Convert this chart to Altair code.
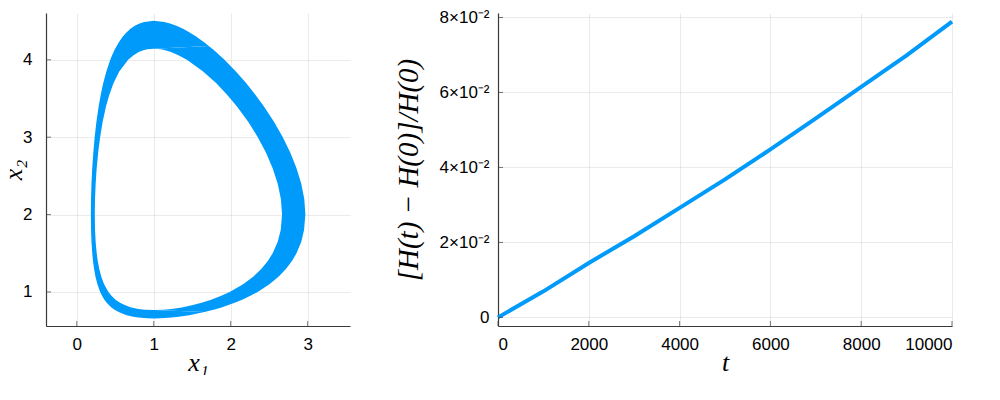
import altair as alt
import pandas as pd

BLUE = "#009AFA"
SPINE = "#3a3a3a"

# ---- left panel: phase-space band (outer and inner boundary) ----
y_samples = [0.657, 0.66, 0.67, 0.68, 0.70, 0.72, 0.74, 0.766, 0.77, 0.78, 0.80,
             0.83, 0.86, 0.90, 0.95, 1.00, 1.10, 1.20, 1.30, 1.40, 1.50, 1.65,
             1.80, 2.00, 2.20, 2.40, 2.60, 2.80, 3.00, 3.20, 3.40, 3.55, 3.70,
             3.85, 4.00, 4.06, 4.10, 4.12, 4.135, 4.143, 4.18, 4.22, 4.26, 4.30,
             4.35, 4.40, 4.44, 4.47, 4.49, 4.505]
outer_left = [1.0, 0.917, 0.797, 0.734, 0.649, 0.590, 0.545, 0.4975, 0.4916, 0.477, 0.450,
              0.417, 0.389, 0.3585, 0.328, 0.304, 0.268, 0.2424, 0.2242, 0.2107, 0.2009, 0.191,
              0.1855, 0.183, 0.185, 0.191, 0.2008, 0.2145, 0.2323, 0.2551, 0.2843, 0.3113, 0.3439,
              0.3842, 0.435, 0.459, 0.478, 0.487, 0.4946, 0.4984, 0.519, 0.5425, 0.569, 0.598,
              0.642, 0.697, 0.754, 0.815, 0.876, 1.0]
outer_right = [1.0, 1.09, 1.234, 1.324, 1.46, 1.566, 1.658, 1.762, 1.777, 1.813, 1.880,
               1.970, 2.052, 2.149, 2.256, 2.349, 2.503, 2.624, 2.720, 2.796, 2.855, 2.917,
               2.953, 2.970, 2.956, 2.916, 2.855, 2.775, 2.677, 2.562, 2.430, 2.320, 2.200,
               2.067, 1.919, 1.855, 1.810, 1.787, 1.769, 1.760, 1.714, 1.663, 1.609, 1.550,
               1.472, 1.381, 1.294, 1.212, 1.137, 1.0]
inner_left = [None, None, None, None, None, None, None, 1.0, 0.887, 0.80, 0.708,
              0.6225, 0.563, 0.504, 0.451, 0.4116, 0.355, 0.3177, 0.2916, 0.2726, 0.2587, 0.245,
              0.2374, 0.2341, 0.237, 0.2453, 0.2586, 0.2777, 0.303, 0.3363, 0.38, 0.423, 0.478,
              0.552, 0.667, 0.738, 0.805, 0.855, 0.917, 1.0, None, None, None, None,
              None, None, None, None, None, None]
inner_right = [None, None, None, None, None, None, None, 1.0, 1.123, 1.229, 1.364,
               1.508, 1.621, 1.746, 1.877, 1.986, 2.161, 2.296, 2.400, 2.482, 2.545, 2.611,
               2.650, 2.667, 2.652, 2.610, 2.545, 2.459, 2.352, 2.227, 2.079, 1.953, 1.810,
               1.641, 1.431, 1.320, 1.223, 1.161, 1.09, 1.0, None, None, None, None,
               None, None, None, None, None, None]

x1_ticks = [0, 1, 2, 3]
x2_ticks = [1, 2, 3, 4]

# ---- right panel: relative energy error ----
t_vals = [0, 1000, 2000, 3000, 4000, 5000, 6000, 7000, 8000, 9000, 10000]
h_vals = [0.0, 0.00695, 0.01452, 0.02165, 0.0292, 0.0368, 0.0448, 0.0531, 0.0615, 0.0699, 0.0789]
t_ticks = [0, 2000, 4000, 6000, 8000, 10000]
h_ticks = [0.0, 0.02, 0.04, 0.06, 0.08]

orbit = pd.DataFrame({"y": y_samples, "xoL": outer_left, "xoR": outer_right,
                      "xiL": inner_left, "xiR": inner_right})
cap = orbit["xiL"].isna()
orbit.loc[cap, "xiL"] = orbit.loc[cap, "xoR"]
orbit.loc[cap, "xiR"] = orbit.loc[cap, "xoR"]

energy = pd.DataFrame({"t": t_vals, "h": h_vals})

axis_common = dict(
    grid=True, gridColor="#000000", gridOpacity=0.1, gridWidth=0.8,
    domainColor=SPINE, domainWidth=1.2, ticks=False,
    labelFont="Liberation Sans", labelFontSize=17, labelColor="#000000",
    titleFont="Liberation Serif", titleFontStyle="italic", titleFontWeight="normal",
    titleColor="#000000",
)

W_L, W_R, H = 304, 454, 313

xs = alt.Scale(domain=[-0.40, 3.55], nice=False, zero=False)
ys = alt.Scale(domain=[0.56, 4.605], nice=False, zero=False)
ts = alt.Scale(domain=[0, 10000], nice=False, zero=False)
hs = alt.Scale(domain=[-0.0023, 0.0812], nice=False, zero=False)

ax_x1 = alt.Axis(values=x1_ticks, format="d", title="x₁", titleFontSize=26,
                 labelPadding=10, titlePadding=-3, **axis_common)
ax_x2 = alt.Axis(values=x2_ticks, format="d", title="x₂", titleFontSize=26,
                 labelPadding=14, titlePadding=-4, **axis_common)
ax_t = alt.Axis(values=t_ticks, format="d", title="t", titleFontSize=26,
                labelPadding=10, titlePadding=-3, **axis_common)
ax_h = alt.Axis(values=h_ticks, title="[H(t) − H(0)]/H(0)", titleFontSize=29,
                labelPadding=9, titlePadding=16,
                labelExpr="datum.value == 0 ? '0' : round(datum.value*100) + '×10⁻²'",
                **axis_common)

base = alt.Chart(orbit)
left_strip = base.mark_area(orient="horizontal", color=BLUE, opacity=1).encode(
    y=alt.Y("y:Q", scale=ys, axis=ax_x2, title="x₂"),
    x=alt.X("xoL:Q", scale=xs, axis=ax_x1, title="x₁"),
    x2="xiL:Q",
)
right_strip = base.mark_area(orient="horizontal", color=BLUE, opacity=1).encode(
    y=alt.Y("y:Q", scale=ys, axis=ax_x2, title="x₂"),
    x=alt.X("xiR:Q", scale=xs, axis=ax_x1, title="x₁"),
    x2="xoR:Q",
)
# small inward tick marks (as in the reference)
lx_ticks = alt.Chart(pd.DataFrame({"xoL": x1_ticks})).mark_tick(
    orient="vertical", color=SPINE, size=5, thickness=1).encode(
    x=alt.X("xoL:Q", scale=xs, axis=ax_x1, title="x₁"), y=alt.value(H - 2.5))
ly_ticks = alt.Chart(pd.DataFrame({"y": x2_ticks})).mark_tick(
    orient="horizontal", color=SPINE, size=5, thickness=1).encode(
    y=alt.Y("y:Q", scale=ys, axis=ax_x2, title="x₂"), x=alt.value(2.5))
left = alt.layer(left_strip, right_strip, lx_ticks, ly_ticks).properties(width=W_L, height=H)

line = alt.Chart(energy).mark_line(color=BLUE, strokeWidth=4).encode(
    x=alt.X("t:Q", scale=ts, axis=ax_t, title="t"),
    y=alt.Y("h:Q", scale=hs, axis=ax_h, title="[H(t) − H(0)]/H(0)"),
)
rx_ticks = alt.Chart(pd.DataFrame({"t": t_ticks})).mark_tick(
    orient="vertical", color=SPINE, size=5, thickness=1).encode(
    x=alt.X("t:Q", scale=ts, axis=ax_t, title="t"), y=alt.value(H - 2.5))
ry_ticks = alt.Chart(pd.DataFrame({"h": h_ticks})).mark_tick(
    orient="horizontal", color=SPINE, size=5, thickness=1).encode(
    y=alt.Y("h:Q", scale=hs, axis=ax_h, title="[H(t) − H(0)]/H(0)"), x=alt.value(2.5))
right = alt.layer(line, rx_ticks, ry_ticks).properties(width=W_R, height=H)

chart = alt.hconcat(left, right, spacing=148, bounds="flush").properties(
    padding={"left": -8, "top": 0, "right": 0, "bottom": 0}
).configure_view(stroke=None)

chart.save("out.html", embed_options={"renderer": "svg", "actions": False})
